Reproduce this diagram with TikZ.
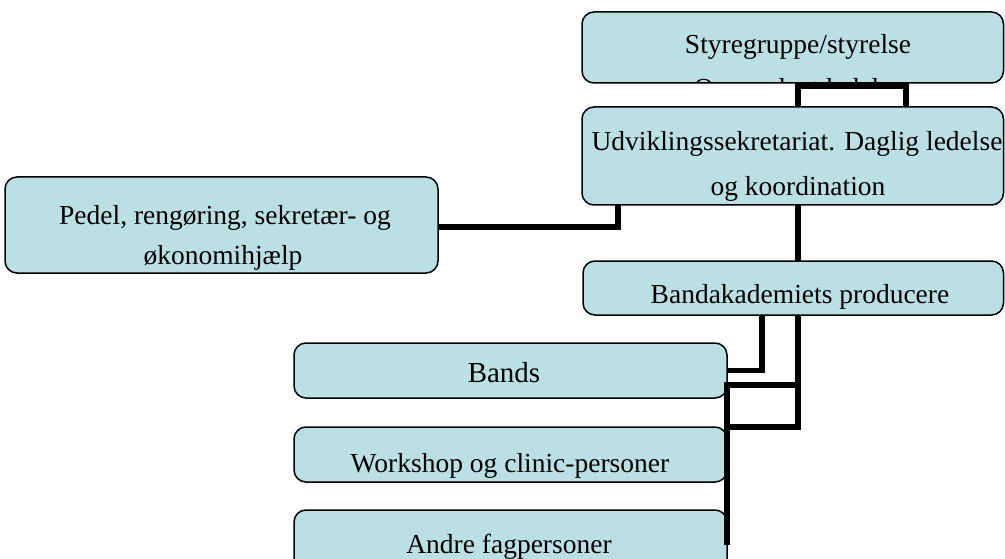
\documentclass[tikz,border=0pt]{standalone}
\usepackage{fontspec}
\setmainfont{Liberation Serif}
\definecolor{boxfill}{HTML}{BAE0E3}
\begin{document}
\begin{tikzpicture}[x=1pt,y=-1pt,
  box/.style={draw=black, line width=1.5pt, fill=boxfill, rounded corners=12pt, anchor=north west, inner sep=0pt, outer sep=0pt},
  txt/.style={anchor=base, inner sep=0pt, font=\fontsize{27.5}{33}\selectfont},
  conn/.style={line width=5.5pt, draw=black}]
\useasboundingbox (0,0) rectangle (1005,559);
\clip (0,0) rectangle (1005,559);

% boxes
\node[box, minimum width=421.5pt, minimum height=71pt] (T) at (582,12) {};
\begin{scope}
  \clip (583,13) rectangle (1002,82.3);
  \node[txt] (t0b) at (798,97.5) {Overordnet ledelse};
\end{scope}
\node[txt] (t0) at (798,54) {Styregruppe/styrelse};

\node[box, minimum width=421.5pt, minimum height=98pt] (U) at (582,107) {};
\node[txt] (t1) at (797,151) {Udviklingssekretariat. Daglig ledelse};
\node[txt] (t1b) at (798,196) {og koordination};

\node[box, minimum width=433pt, minimum height=96pt] (P) at (5,177) {};
\node[txt] (t2) at (225,225) {Pedel, rengøring, sekretær- og};
\node[txt] (t2b) at (223,265) {økonomihjælp};

\node[box, minimum width=420.5pt, minimum height=54pt] (B) at (583,261) {};
\node[txt] (t3) at (800,303) {Bandakademiets producere};

\node[box, minimum width=433pt, minimum height=55pt] (Ba) at (294,343) {};
\node[txt, font=\fontsize{29}{33}\selectfont] (t4) at (504,382) {Bands};

\node[box, minimum width=433pt, minimum height=55pt] (W) at (294,427) {};
\node[txt] (t5) at (510,472) {Workshop og clinic-personer};

\node[box, minimum width=433pt, minimum height=62pt] (A) at (294,510) {};
\node[txt] (t6) at (509,553) {Andre fagpersoner};

% connectors
\draw[conn] ([xshift=216pt]T.south west) -- ([xshift=216pt]U.north west);
\draw[conn] ([xshift=324pt]T.south west) -- ([xshift=324pt]U.north west);
\draw[conn] ([xshift=216pt,yshift=-3pt]T.south west) -- ([xshift=324pt,yshift=-3pt]T.south west);
\draw[conn] ([xshift=36pt]U.south west) |- ([yshift=-2pt]P.east);
\draw[conn] ([xshift=216pt]U.south west) -- ([xshift=215pt]B.north west);
\draw[conn] ([xshift=179pt]B.south west) |- (Ba.east);
\draw[conn] ([xshift=215pt]B.south west) |- (W.north east);
\draw[conn] ([xshift=215pt,yshift=-70pt]B.south west) -- ([yshift=13pt]Ba.south east) -- ([yshift=-4pt]A.east);
\end{tikzpicture}
\end{document}
